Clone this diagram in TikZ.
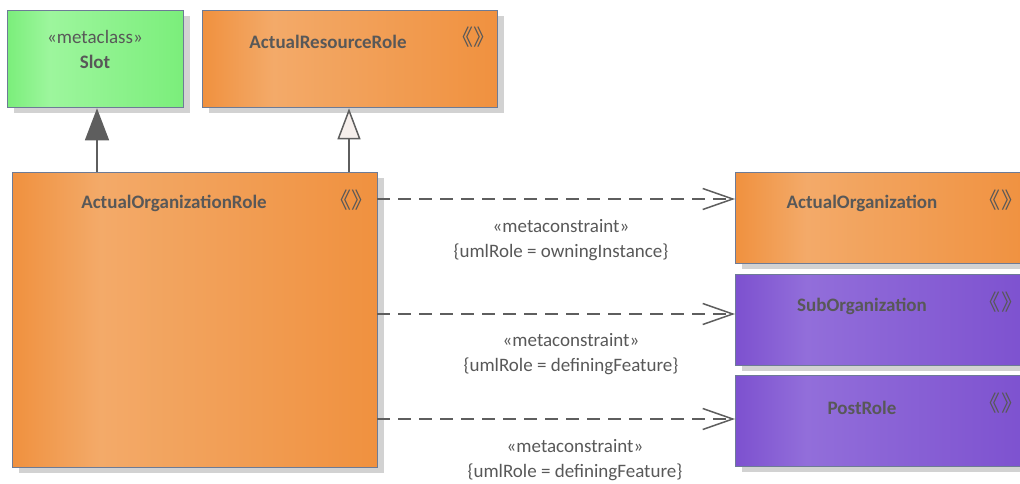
\documentclass[tikz,border=0pt]{standalone}
\usepackage{fontspec}
\setmainfont{Carlito}
\newfontfamily\cjk{Noto Sans CJK SC}
\usetikzlibrary{arrows.meta,shadows,calc}
\definecolor{or1}{HTML}{F0913F}
\definecolor{or2}{HTML}{F3AA69}
\definecolor{gr1}{HTML}{7BEE7B}
\definecolor{gr2}{HTML}{9DF69D}
\definecolor{pu1}{HTML}{7D51CF}
\definecolor{pu2}{HTML}{926EDA}
\definecolor{bordc}{HTML}{6D7B96}
\definecolor{shadowc}{HTML}{D2D2D2}
\definecolor{txtc}{HTML}{585858}
\definecolor{linec}{HTML}{5E5E5E}
\definecolor{trifill}{HTML}{F6EFEC}
\pgfdeclarehorizontalshading{orsh}{100bp}{color(0bp)=(or1); color(25bp)=(or1); color(37bp)=(or2); color(75bp)=(or1); color(100bp)=(or1)}
\pgfdeclarehorizontalshading{grsh}{100bp}{color(0bp)=(gr1); color(25bp)=(gr1); color(37bp)=(gr2); color(75bp)=(gr1); color(100bp)=(gr1)}
\pgfdeclarehorizontalshading{push}{100bp}{color(0bp)=(pu1); color(25bp)=(pu1); color(37bp)=(pu2); color(75bp)=(pu1); color(100bp)=(pu1)}
\newcommand{\stereoicon}{\hspace*{-0.45em}《\hspace{0.02em}》\hspace*{-0.45em}}
\begin{document}
\begin{tikzpicture}[x=1pt,y=-1pt,
  box/.style={draw=bordc, line width=1.3pt, rectangle, anchor=north west, inner sep=0pt,
    general shadow={fill=shadowc, shadow xshift=6pt, shadow yshift=-5pt}},
  title/.style={text=txtc, font=\fontsize{19}{22}\selectfont\bfseries, inner sep=0pt},
  stereo/.style={text=txtc, font=\fontsize{19}{22}\selectfont, inner sep=0pt},
  icon/.style={text=txtc, font=\cjk\fontsize{22}{26}\selectfont, inner sep=0pt},
  lbl/.style={text=txtc, font=\fontsize{19}{24.5}\selectfont, align=center, inner sep=0pt},
  dep/.style={draw=linec, line width=1.5pt, dash pattern=on 13pt off 8pt,
    -{Straight Barb[length=30pt,width=21pt,line width=1.5pt]}},
  genfilled/.style={draw=linec, line width=1.5pt, -{Triangle[length=32pt,width=24pt,fill=linec]}},
  genopen/.style={draw=linec, line width=1.5pt, -{Triangle[length=31pt,width=23pt,fill=trifill]}}
]
\path[use as bounding box] (0,0) rectangle (1020,484);
\clip (0,0) rectangle (1020,484);

% boxes
\node[box, shading=grsh, minimum width=176pt, minimum height=97pt] (slot) at (7,10) {};
\node[box, shading=orsh, minimum width=295pt, minimum height=97pt] (arr) at (202,10) {};
\node[box, shading=orsh, minimum width=365pt, minimum height=295pt] (aor) at (12,172) {};
\node[box, shading=orsh, minimum width=295pt, minimum height=91pt] (ao) at (735,172) {};
\node[box, shading=push, minimum width=295pt, minimum height=91pt] (sub) at (735,274) {};
\node[box, shading=push, minimum width=295pt, minimum height=91pt] (post) at (735,375) {};

% texts
\node[stereo] (slots) at ($(slot.north west)+(88,27)$) {«metaclass»};
\node[title] (slott) at ($(slot.north west)+(88,52)$) {Slot};
\node[title] (arrt) at ($(arr.north west)+(126,32)$) {ActualResourceRole};
\node[icon] (arri) at ($(arr.north east)+(-25,27)$) {\stereoicon};
\node[title] (aort) at ($(aor.north west)+(162,31)$) {ActualOrganizationRole};
\node[icon] (aori) at ($(aor.north east)+(-27,28)$) {\stereoicon};
\node[title] (aot) at ($(ao.north west)+(127,31)$) {ActualOrganization};
\node[icon] (aoi) at ($(ao.north west)+(266,28)$) {\stereoicon};
\node[title] (subt) at ($(sub.north west)+(127,32)$) {SubOrganization};
\node[icon] (subi) at ($(sub.north west)+(266,28)$) {\stereoicon};
\node[title] (postt) at ($(post.north west)+(127,33)$) {PostRole};
\node[icon] (posti) at ($(post.north west)+(266,28)$) {\stereoicon};

% generalizations
\coordinate (g1) at (97,172);
\coordinate (g2) at (349,172);
\draw[genfilled] (g1) -- (g1 |- slot.south);
\draw[genopen] (g2) -- (g2 |- arr.south);

% dependencies
\coordinate (d1) at (377,199);
\coordinate (d2) at (377,314);
\coordinate (d3) at (377,419);
\draw[dep] (d1) -- (d1 -| ao.west);
\draw[dep] (d2) -- (d2 -| sub.west);
\draw[dep] (d3) -- (d3 -| post.west);

\node[lbl] (l1) at ($(d1)+(184,41)$) {«metaconstraint»\\\{umlRole = owningInstance\}};
\node[lbl] (l2) at ($(d2)+(194,40)$) {«metaconstraint»\\\{umlRole = definingFeature\}};
\node[lbl] (l3) at ($(d3)+(198,41)$) {«metaconstraint»\\\{umlRole = definingFeature\}};
\end{tikzpicture}
\end{document}
